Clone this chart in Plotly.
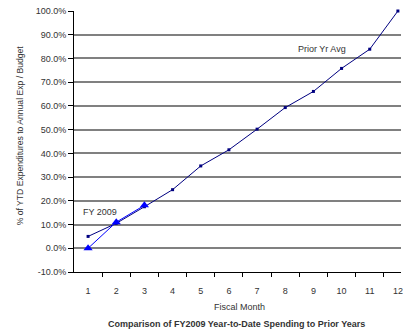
import plotly.graph_objects as go

# Fiscal months and YTD spending as a share of annual expenditure / budget (%)
months = [1, 2, 3, 4, 5, 6, 7, 8, 9, 10, 11, 12]
month_labels = [str(m) for m in months]
prior_yr_avg = [5.0, 10.5, 17.5, 24.7, 34.7, 41.5, 50.2, 59.3, 66.1, 75.8, 83.9, 100.0]
fy2009_months = [1, 2, 3]
fy2009 = [0.0, 11.0, 18.1]
y_ticks = [-10, 0, 10, 20, 30, 40, 50, 60, 70, 80, 90, 100]
y_tick_labels = [f"{v:.1f}%" for v in y_ticks]
month_bounds = [m + 0.5 for m in months[:-1]]

FONT = "Liberation Sans, Arial, sans-serif"
TXT = "#333333"

# plot area in pixels
W, H = 403, 331
ML, MR, MT, MB = 74, 0, 11, 59
plot_w = W - ML - MR
plot_h = H - MT - MB


def px_x(x):
    return (x - ML) / plot_w


def px_y(y):
    return (H - MB - y) / plot_h


fig = go.Figure()

fig.add_trace(go.Scatter(
    x=months, y=prior_yr_avg, mode="lines+markers",
    line=dict(color="#000080", width=1),
    marker=dict(symbol="square", size=3, color="#000080"),
    cliponaxis=False, showlegend=False,
))
fig.add_trace(go.Scatter(
    x=fy2009_months, y=fy2009, mode="lines+markers",
    line=dict(color="#0000FF", width=1),
    marker=dict(symbol="triangle-up", size=8, color="#0000FF"),
    cliponaxis=False, showlegend=False,
))
# invisible trace on the label axis so it renders
fig.add_trace(go.Scatter(x=[months[0]], y=[None], xaxis="x2", showlegend=False,
                         hoverinfo="skip"))

fig.update_layout(
    width=W, height=H,
    margin=dict(l=ML, r=MR, t=MT, b=MB),
    paper_bgcolor="white", plot_bgcolor="white",
    font=dict(family=FONT, size=9, color=TXT),
    xaxis=dict(
        range=[0.5, 12.11], tickmode="array", tickvals=month_bounds,
        showticklabels=False, ticks="outside", ticklen=4, tickcolor="#000",
        showgrid=False, zeroline=False, showline=True, linecolor="#000", linewidth=1,
    ),
    xaxis2=dict(
        overlaying="x", matches="x", side="bottom", anchor="y",
        tickmode="array", tickvals=months, ticktext=month_labels,
        ticks="", showgrid=False, zeroline=False, showline=False,
        ticklabelstandoff=12, ticklabeloverflow="allow",
        tickfont=dict(size=9, color=TXT),
    ),
    yaxis=dict(
        range=[-10, 100], tickmode="array", tickvals=y_ticks, ticktext=y_tick_labels,
        ticks="outside", ticklen=5, tickcolor="#000",
        showgrid=True, gridcolor="#808080", gridwidth=1.5,
        zeroline=False, showline=True, linecolor="#000", linewidth=1,
        tickfont=dict(size=9, color=TXT),
    ),
    annotations=[
        dict(text="FY 2009", x=1.42, y=15.5, xref="x", yref="y", showarrow=False,
             font=dict(size=9, color=TXT)),
        dict(text="Prior Yr Avg", x=9.3, y=84.1, xref="x", yref="y", showarrow=False,
             font=dict(size=9, color=TXT)),
        dict(text="% of YTD Expenditures to Annual Exp / Budget", textangle=-90,
             x=px_x(20), y=px_y(135), xref="paper", yref="paper", showarrow=False,
             xanchor="center", yanchor="middle", font=dict(size=8.6, color=TXT)),
        dict(text="Fiscal Month", x=px_x(241), y=px_y(307), xref="paper", yref="paper",
             showarrow=False, xanchor="center", yanchor="middle",
             font=dict(size=9, color=TXT)),
        dict(text="<b>Comparison of FY2009 Year-to-Date Spending to Prior Years</b>",
             x=px_x(237.5), y=px_y(324), xref="paper", yref="paper",
             showarrow=False, xanchor="center", yanchor="middle",
             font=dict(size=9, color=TXT)),
    ],
)

fig.write_html("out.html")
